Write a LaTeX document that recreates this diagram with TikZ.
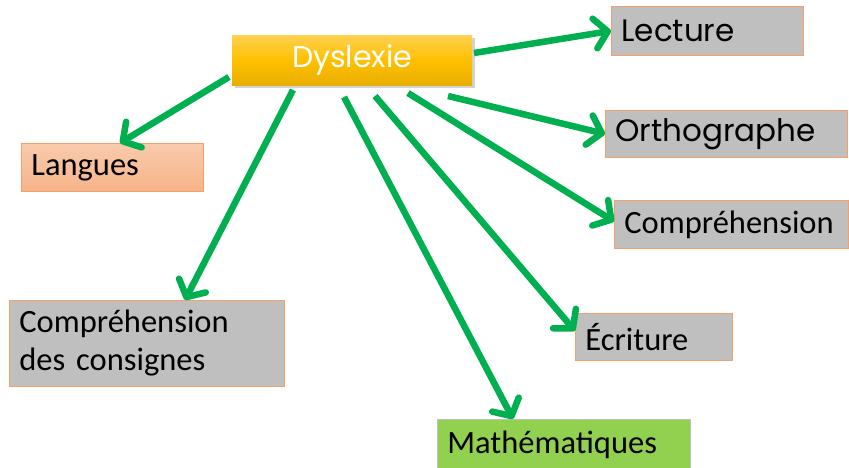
\documentclass[tikz,border=0pt]{standalone}
\usepackage{fontspec}
\setmainfont{Carlito}
\newfontfamily\gothic{Poppins}
\usetikzlibrary{positioning}
\usetikzlibrary{arrows.meta}
\usetikzlibrary{calc, shadows}
\definecolor{arrowGreen}{HTML}{00B050}
\definecolor{boxEdge}{HTML}{F4A06A}
\definecolor{boxGray}{HTML}{BFBFBF}
\definecolor{mathGreen}{HTML}{92D050}
\definecolor{goldTop}{HTML}{FFD050}
\definecolor{goldMid}{HTML}{FFC000}
\definecolor{goldBot}{HTML}{E8AE00}
\tikzset{%
	% Specifications for style of nodes:
	base/.style = {rectangle, draw=boxEdge, line width=0.8pt,
		anchor=north west, inner xsep=10pt, inner ysep=0pt,
		align=left, font=\fontsize{32.5}{38}\selectfont},
	subject/.style = {base, fill=boxGray},
	skill/.style = {base, fill=boxGray, font=\gothic\fontsize{31}{34}\selectfont},
	language/.style = {base, top color=boxEdge!55, bottom color=boxEdge!80},
	maths/.style = {base, fill=mathGreen, draw=boxGray},
	centre/.style = {rectangle, anchor=north west, minimum width=240pt,
		minimum height=50pt, top color=goldTop, bottom color=goldBot,
		middle color=goldMid, text=white, drop shadow={opacity=0.35},
		font=\gothic\fontsize{30}{33}\selectfont},
	link/.style = {draw=arrowGreen, line width=6.5pt,
		-{Straight Barb[length=13pt, width=30pt, round]}},
}
\begin{document}
\begin{tikzpicture}[x=1pt, y=-1pt]
	\useasboundingbox (0,0) rectangle (849,468);
	
	\node (dys) [centre] at (232,35) {Dyslexie};
	\node (lect) [skill, text width=172pt, minimum height=49pt] at (611,6) {Lecture};
	\node (orth) [skill, text width=222pt, minimum height=47pt] at (605,110) {Orthographe};
	\node (comp) [subject, text width=214pt, minimum height=48pt] at (614,200) {Compréhension};
	\node (ecri) [subject, text width=137pt, minimum height=47pt] at (575,313) {Écriture};
	\node (math) [maths, text width=233pt, minimum height=50pt] at (437,419) {Mathématiques};
	\node (lang) [language, text width=162pt, minimum height=48pt] at (21,143) {Langues};
	\node (cons) [subject, text width=255pt, minimum height=86pt] at (9,300) {Compréhension\\des consignes};
	
	% start points just off the central box
	\coordinate (sLect) at (474,53);
	\coordinate (sOrth) at (448,96);
	\coordinate (sComp) at (408,93);
	\coordinate (sEcri) at (375,96);
	\coordinate (sMath) at (344,97);
	\coordinate (sCons) at (293,90);
	\coordinate (sLang) at (229,77);
	
	\draw [link] (sLect) -- (lect.west);
	\draw [link] (sOrth) -- (orth.west);
	\draw [link] (sComp) -- ([yshift=3pt]comp.west);
	\draw [link] (sEcri) -- ([yshift=6pt]ecri.west);
	\draw [link] (sMath) -- ([xshift=76pt]math.north west);
	\draw [link] (sCons) -- ([xshift=176pt]cons.north west);
	\draw [link] (sLang) -- ([xshift=99pt]lang.north west);
\end{tikzpicture}
\end{document}
